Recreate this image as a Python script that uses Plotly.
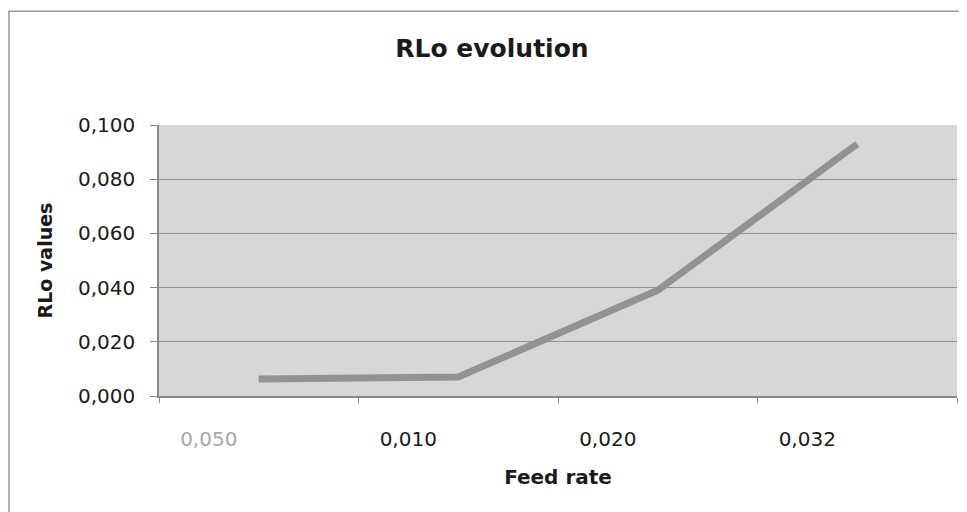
import plotly.graph_objects as go

# data
feed_rate = ['0,050', '0,010', '0,020', '0,032']
rlo_values = [0.0063, 0.0070, 0.0390, 0.0930]
tick_colors = ['#a8a8a8', '#1a1a1a', '#1a1a1a', '#1a1a1a']

this_width = 967
this_height = 512

tick_text = ["<span style='color:%s'>%s</span>" % (c, t) for c, t in zip(tick_colors, feed_rate)]

fig = go.Figure()
fig.add_trace(go.Scatter(
    x=feed_rate, y=rlo_values,
    mode='lines',
    line=dict(color='#929292', width=7),
    showlegend=False,
))

# page body adds ~8px offset, margins compensate for it
fig.update_layout(
    width=this_width,
    height=this_height,
    margin=dict(l=151, r=18, t=117, b=124),
    paper_bgcolor='white',
    plot_bgcolor='#d7d7d7',
    separators=',.',
    font=dict(family='DejaVu Sans', size=20, color='#1a1a1a'),
    title=dict(text='<b>RLo evolution</b>', x=0.5005, xanchor='center',
               y=0.922, yanchor='middle', font=dict(size=25)),
    shapes=[dict(type='rect', xref='paper', yref='paper', layer='below',
                 x0=-0.188, x1=1.2, y0=-0.6, y1=1.42,
                 line=dict(color='#9a9a9a', width=1.5), fillcolor='rgba(0,0,0,0)')],
)

fig.update_xaxes(
    type='category', automargin=False,
    tickvals=feed_rate, ticktext=tick_text,
    tickson='boundaries', ticks='outside', ticklen=5, tickcolor='#888',
    ticklabelshift=-50, ticklabelstandoff=24,
    tickfont=dict(size=20),
    showline=True, linecolor='#888', linewidth=1.5,
    showgrid=False, range=[-0.5, 3.5],
    title=dict(text='<b>Feed rate</b>', font=dict(size=20), standoff=20),
)
fig.update_yaxes(
    automargin=False,
    range=[0, 0.1], dtick=0.02, tickformat='.3f',
    ticks='outside', ticklen=7, tickcolor='#888',
    ticklabelstandoff=11,
    tickfont=dict(size=20),
    showline=True, linecolor='#888', linewidth=1.5,
    showgrid=True, gridcolor='#8f8f8f', gridwidth=1.2,
    zeroline=False,
    title=dict(text='<b>RLo values</b>', font=dict(size=19), standoff=20),
)

fig.write_html('out.html')
